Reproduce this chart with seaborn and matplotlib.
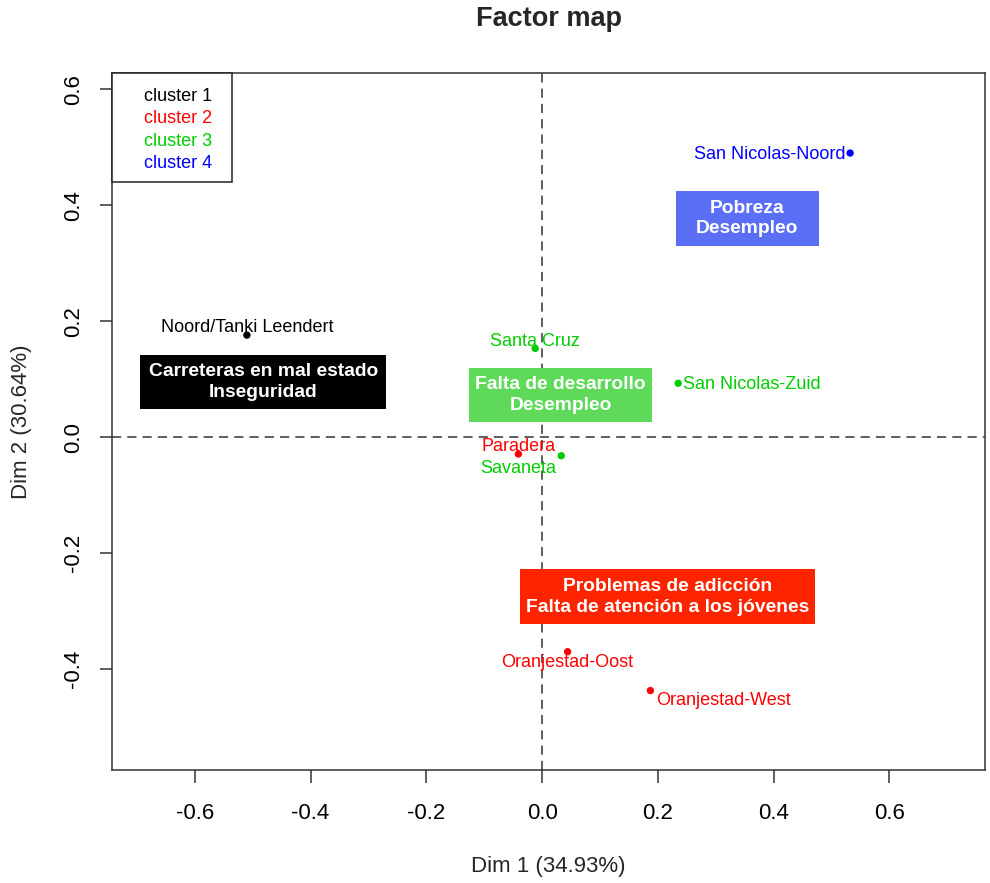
import matplotlib
matplotlib.use("Agg")
import matplotlib.pyplot as plt
from matplotlib.lines import Line2D
from matplotlib.patches import Rectangle
import seaborn as sns
import pandas as pd

# ---------------- data ----------------
names = ["Noord/Tanki Leendert", "Santa Cruz", "San Nicolas-Zuid", "Paradera",
         "Savaneta", "Oranjestad-Oost", "Oranjestad-West", "San Nicolas-Noord"]
dim1 = [-0.510, -0.012, 0.235, -0.041, 0.033, 0.044, 0.187, 0.532]
dim2 = [0.176, 0.153, 0.093, -0.029, -0.032, -0.370, -0.437, 0.490]
cluster = ["cluster 1", "cluster 3", "cluster 3", "cluster 2",
           "cluster 3", "cluster 2", "cluster 2", "cluster 4"]

cluster_labels = ["cluster 1", "cluster 2", "cluster 3", "cluster 4"]
cluster_colors = ["#000000", "#FF0000", "#00CD00", "#0000FF"]

box_texts = ["Carreteras en mal estado\nInseguridad",
             "Falta de desarrollo\nDesempleo",
             "Pobreza\nDesempleo",
             "Problemas de adicción\nFalta de atención a los jóvenes"]
box_x0 = [-0.694, -0.126, 0.231, -0.038]
box_x1 = [-0.269, 0.190, 0.478, 0.471]
box_y0 = [0.049, 0.027, 0.330, -0.322]
box_y1 = [0.142, 0.119, 0.424, -0.228]
box_colors = ["#000000", "#5FD95A", "#5A6FF6", "#FF2400"]

title = "Factor map"
xlabel = "Dim 1 (34.93%)"
ylabel = "Dim 2 (30.64%)"
xticks = [-0.6, -0.4, -0.2, 0.0, 0.2, 0.4, 0.6]
yticks = [-0.4, -0.2, 0.0, 0.2, 0.4, 0.6]

# label placement (offset in points, alignment)
label_offsets = [(0, 5.3), (0, 4.8), (3.2, -1.2), (0, 5.5),
                 (-31, -8.9), (0, -8.0), (4.0, -7.4), (-3.4, -1.0)]
label_ha = ["center", "center", "left", "center",
            "center", "center", "left", "right"]

# ---------------- style ----------------
sns.set_theme(style="white")
plt.rcParams["font.family"] = ["Liberation Sans", "DejaVu Sans"]

fig = plt.figure(figsize=(9.9, 8.83), dpi=100)
ax = fig.add_axes([112 / 990, (883 - 770) / 883, 873 / 990, 697 / 883])

df = pd.DataFrame({"name": names, "dim1": dim1, "dim2": dim2, "cluster": cluster})
palette = dict(zip(cluster_labels, cluster_colors))

ax.axhline(0, color="#333333", lw=1.1, ls=(0, (6, 4)), zorder=1)
ax.axvline(0, color="#333333", lw=1.1, ls=(0, (6, 4)), zorder=1)

# boxes
for txt, x0, x1, y0, y1, c in zip(box_texts, box_x0, box_x1, box_y0, box_y1, box_colors):
    ax.add_patch(Rectangle((x0, y0), x1 - x0, y1 - y0, facecolor=c,
                           edgecolor="none", zorder=2))
    ax.text((x0 + x1) / 2, (y0 + y1) / 2, txt, color="white", fontsize=13.9,
            fontweight="bold", ha="center", va="center", linespacing=1.3,
            zorder=3)

sns.scatterplot(data=df, x="dim1", y="dim2", hue="cluster", palette=palette,
                s=28, edgecolor="none", legend=False, ax=ax, zorder=4)

for n, x, y, cl, off, ha in zip(names, dim1, dim2, cluster, label_offsets, label_ha):
    ax.annotate(n, (x, y), xytext=off, textcoords="offset points",
                ha=ha, va="center", fontsize=13, color=palette[cl], zorder=5)

ax.set_xlim(-0.743, 0.765)
ax.set_ylim(-0.574, 0.628)
ax.set_xticks(xticks)
ax.set_yticks(yticks)
ax.set_xticklabels([f"{v:.1f}" for v in xticks])
ax.set_yticklabels([f"{v:.1f}" for v in yticks], rotation=90, va="center")

ax.tick_params(axis="both", direction="out", length=9, width=1.1,
               color="#333333", labelsize=16, labelcolor="black",
               bottom=True, left=True)
ax.tick_params(axis="x", pad=15)
ax.tick_params(axis="y", pad=11)

for sp in ax.spines.values():
    sp.set_color("#333333")
    sp.set_linewidth(1.1)

ax.set_xlabel(xlabel, fontsize=16, va="center")
ax.set_ylabel(ylabel, fontsize=16, va="center")
ax.xaxis.set_label_coords(0.5, -0.138)
ax.yaxis.set_label_coords(-0.104, 0.5)
fig.text(548.5 / 990, 1 - 19 / 883, title, fontsize=19.5, fontweight="bold",
         ha="center", va="center")

# legend: frame box + colored labels
ax.add_patch(Rectangle((0, (770 - 182) / 697), (232 - 112) / 873,
                       1 - (770 - 182) / 697, transform=ax.transAxes,
                       facecolor="white", edgecolor="#222222", lw=1.1,
                       zorder=6, clip_on=False))
handles = [Line2D([], [], linestyle="none") for _ in cluster_labels]
leg = ax.legend(handles, cluster_labels, loc="upper left",
                bbox_to_anchor=((144 - 112) / 873, (770 - 88) / 697),
                borderaxespad=0, frameon=False, handlelength=0,
                handletextpad=0, borderpad=0, labelspacing=0.3, fontsize=13,
                labelcolor=cluster_colors)
leg.set_zorder(7)

fig.savefig("out.png", dpi=100)
